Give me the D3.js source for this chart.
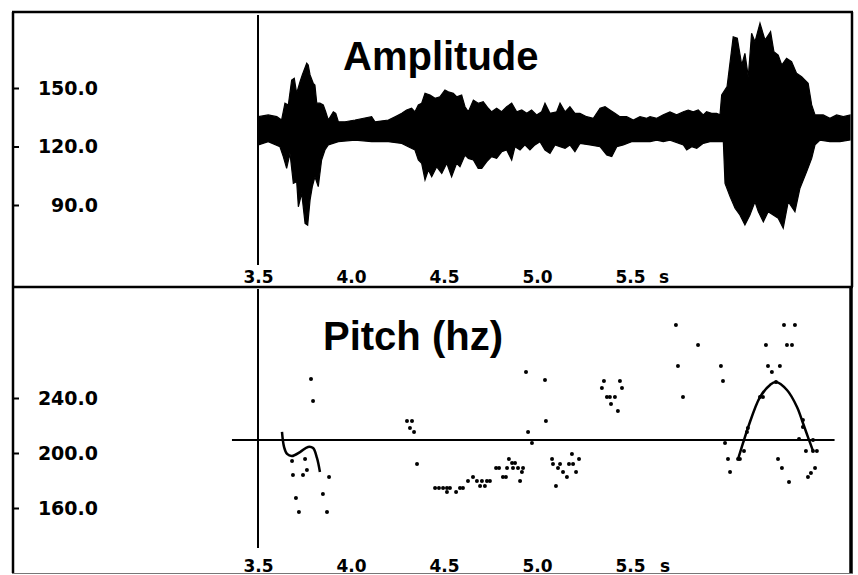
<!DOCTYPE html>
<html>
<head>
<meta charset="utf-8">
<script src="https://cdn.jsdelivr.net/npm/d3@7"></script>
<style>
body { margin: 0; background: #fff; }
text { font-family: "DejaVu Sans", sans-serif; fill: #000; }
</style>
</head>
<body>
<div id="chart"></div>
<script>
const timeTicks = [3.5, 4.0, 4.5, 5.0, 5.5];
const ampTicks = [90, 120, 150];
const pitchTicks = [160, 200, 240];

// amplitude envelope: upper edge
const upperTime = [3.502, 3.555, 3.601, 3.627, 3.645, 3.663, 3.681, 3.695, 3.708, 3.726, 3.738, 3.762,
    3.770, 3.780, 3.797, 3.806, 3.816, 3.833, 3.851, 3.864, 3.878, 3.905, 3.918, 3.932, 3.968,
    4.022, 4.111, 4.129, 4.201, 4.237, 4.273, 4.299, 4.326, 4.344, 4.362, 4.380, 4.398, 4.425,
    4.452, 4.478, 4.505, 4.523, 4.550, 4.568, 4.595, 4.613, 4.631, 4.658, 4.684, 4.711, 4.738,
    4.756, 4.783, 4.810, 4.837, 4.864, 4.891, 4.918, 4.945, 4.971, 4.998, 5.025, 5.043, 5.070,
    5.106, 5.124, 5.151, 5.177, 5.204, 5.231, 5.267, 5.303, 5.339, 5.366, 5.392, 5.419, 5.446,
    5.482, 5.518, 5.554, 5.590, 5.608, 5.644, 5.679, 5.715, 5.751, 5.787, 5.813, 5.840, 5.867,
    5.894, 5.912, 5.939, 5.966, 5.984, 5.993, 6.022, 6.055, 6.077, 6.101, 6.118, 6.136, 6.154,
    6.172, 6.199, 6.226, 6.256, 6.274, 6.297, 6.316, 6.342, 6.369, 6.396, 6.423, 6.458, 6.477,
    6.495, 6.539, 6.575, 6.611, 6.647, 6.683];
const upperValue = [135.3, 136.2, 135.3, 133.6, 142.2, 141.3, 154.1, 155.0, 147.3, 153.2, 156.7, 162.7,
    161.8, 156.7, 152.4, 151.5, 142.2, 142.2, 141.3, 137.8, 133.6, 137.8, 137.0, 132.7, 132.7,
    133.6, 135.3, 132.7, 133.6, 135.3, 137.0, 138.7, 139.6, 137.8, 141.3, 142.2, 147.3, 146.4,
    144.7, 145.5, 149.0, 148.1, 147.3, 145.5, 146.4, 140.4, 137.8, 143.8, 142.2, 143.0, 139.6,
    137.8, 139.6, 137.8, 140.4, 142.2, 137.8, 138.7, 137.0, 138.7, 136.2, 137.8, 142.2, 137.0,
    137.8, 142.2, 137.8, 140.4, 137.0, 137.0, 135.3, 134.5, 139.6, 140.4, 138.7, 137.0, 135.3,
    135.3, 133.6, 135.3, 134.5, 135.3, 134.5, 136.2, 137.8, 136.2, 137.8, 138.7, 137.8, 138.7,
    136.2, 137.8, 137.0, 137.0, 136.2, 146.4, 150.7, 176.3, 175.5, 161.8, 167.8, 155.8, 178.1,
    173.7, 183.2, 174.6, 178.9, 168.6, 166.9, 161.8, 165.2, 163.5, 157.5, 155.8, 152.4, 141.3,
    136.2, 136.2, 134.5, 136.2, 135.3, 136.2];

// lower edge
const lowerTime = [3.502, 3.555, 3.618, 3.636, 3.654, 3.672, 3.690, 3.708, 3.717, 3.735, 3.753, 3.767,
    3.780, 3.792, 3.806, 3.824, 3.842, 3.860, 3.878, 3.932, 4.022, 4.111, 4.201, 4.273, 4.308,
    4.344, 4.362, 4.380, 4.398, 4.416, 4.434, 4.461, 4.488, 4.515, 4.541, 4.568, 4.586, 4.613,
    4.631, 4.658, 4.684, 4.703, 4.730, 4.756, 4.783, 4.810, 4.837, 4.864, 4.882, 4.909, 4.935,
    4.962, 4.989, 5.016, 5.043, 5.070, 5.097, 5.124, 5.151, 5.177, 5.204, 5.231, 5.285, 5.339,
    5.375, 5.402, 5.429, 5.464, 5.509, 5.554, 5.608, 5.644, 5.679, 5.715, 5.787, 5.805, 5.832,
    5.859, 5.894, 5.930, 5.966, 6.002, 6.011, 6.038, 6.065, 6.091, 6.118, 6.145, 6.172, 6.190,
    6.217, 6.243, 6.270, 6.297, 6.324, 6.351, 6.387, 6.414, 6.450, 6.477, 6.495, 6.522, 6.575,
    6.629, 6.683];
const lowerValue = [120.8, 122.5, 119.9, 114.8, 108.8, 116.5, 101.1, 101.9, 89.1, 96.0, 80.6, 79.7,
    92.6, 99.4, 104.5, 99.4, 113.1, 118.2, 120.8, 122.5, 123.3, 122.5, 122.5, 121.6, 119.9,
    118.2, 113.1, 111.4, 102.8, 107.9, 104.5, 109.6, 106.2, 111.4, 104.5, 111.4, 109.6, 115.6,
    113.9, 113.1, 108.8, 108.8, 112.2, 114.8, 113.9, 117.3, 118.2, 113.1, 119.9, 118.2, 120.8,
    118.2, 120.8, 122.5, 118.2, 116.5, 120.8, 119.9, 119.1, 120.8, 117.3, 121.6, 120.8, 119.9,
    115.6, 114.8, 119.9, 120.8, 122.5, 122.5, 122.5, 123.3, 122.5, 123.3, 120.8, 118.2, 119.9,
    119.1, 121.6, 122.5, 122.5, 122.5, 101.1, 94.3, 88.3, 84.9, 79.8, 84.9, 91.7, 86.6,
    81.4, 86.6, 84.9, 83.2, 78.1, 91.7, 86.6, 98.6, 107.1, 113.9, 120.8, 123.3, 122.5,
    122.5, 123.3];

// pitch estimates (seconds, hz)
const pitchTime = [3.785, 3.796, 3.683, 3.688, 3.742, 3.753, 3.763, 3.704, 3.720, 3.849, 3.871, 3.882,
    4.301, 4.328, 4.317, 4.339, 4.355,
    4.452, 4.473, 4.495, 4.516, 4.532, 4.586, 4.602, 4.516, 4.565, 4.629, 4.656, 4.677, 4.704,
    4.731, 4.747, 4.694, 4.720, 4.780, 4.796, 4.817, 4.833, 4.849, 4.839, 4.866, 4.882, 4.871,
    4.898, 4.925, 4.919, 4.909,
    4.941, 4.952, 4.973, 5.043, 5.048,
    5.081, 5.086, 5.124, 5.172, 5.194, 5.188, 5.226, 5.113, 5.140, 5.161, 5.210, 5.102,
    5.360, 5.446, 5.349, 5.457, 5.376, 5.392, 5.419, 5.398, 5.435,
    5.747, 5.866, 5.758, 5.785, 5.989, 6.000, 6.011, 6.027, 6.038, 6.081, 6.091, 6.113, 6.134,
    6.129, 6.199, 6.215, 6.231, 6.242, 6.306, 6.263, 6.285, 6.328, 6.387, 6.344, 6.371, 6.296,
    6.317, 6.355, 6.430, 6.430, 6.409, 6.484, 6.446, 6.484, 6.505, 6.495, 6.473, 6.457];
const pitchValue = [253.8, 237.8, 194.2, 184.0, 184.0, 195.6, 187.6, 167.3, 157.1, 170.2, 157.1, 182.5,
    223.3, 223.3, 218.2, 215.3, 192.0,
    174.5, 174.5, 174.5, 174.5, 174.5, 174.5, 174.5, 171.6, 171.6, 179.6, 182.5, 179.6, 179.6,
    179.6, 179.6, 176.0, 176.0, 189.1, 189.1, 182.5, 182.5, 195.6, 189.1, 192.7, 192.7, 189.1,
    189.1, 189.1, 186.2, 179.6,
    258.9, 215.3, 207.3, 253.1, 223.3,
    195.6, 192.0, 192.0, 192.0, 192.0, 199.3, 195.6, 189.1, 186.2, 182.5, 186.2, 176.0,
    252.4, 252.4, 247.3, 247.3, 240.7, 240.7, 240.7, 235.6, 230.5,
    293.1, 278.5, 263.3, 240.7, 263.3, 252.4, 207.3, 195.6, 186.2, 195.6, 195.6, 201.5, 218.2,
    215.3, 240.7, 240.7, 278.5, 263.3, 263.3, 258.9, 251.6, 293.1, 293.1, 278.5, 278.5, 195.6,
    189.1, 178.9, 224.0, 218.9, 210.2, 209.5, 201.5, 201.5, 201.5, 189.1, 185.5, 182.5];

// fitted pitch contours
const fitLeftTime = [3.629, 3.640, 3.656, 3.683, 3.726, 3.769, 3.796, 3.817, 3.833];
const fitLeftValue = [215.3, 204.4, 199.3, 197.8, 200.7, 204.4, 203.6, 196.4, 186.2];
const fitRightTime = [6.081, 6.108, 6.134, 6.199, 6.253, 6.285, 6.344, 6.398, 6.430, 6.457, 6.484];
const fitRightValue = [195.6, 207.3, 218.2, 240.7, 249.5, 251.6, 245.8, 233.5, 221.8, 211.6, 201.5];

const meanPitch = 209.5;
const meanSpan = [3.36, 6.60];

const w = 858;
const h = 575;

const svg = d3.select("#chart")
    .append("svg")
    .attr("width", w)
    .attr("height", h);

const xScale = d3.scaleLinear().domain([3.5, 6.683]).range([258, 850]);
const yAmp = d3.scaleLinear().domain([90, 150]).range([205, 88]);
const yPitch = d3.scaleLinear().domain([160, 240]).range([508, 398]);

// frame
const frame = [
    [12, 12, 853, 12, 2.5],
    [13, 12, 13, 573, 2.5],
    [852, 12, 852, 287, 2.5],
    [851, 287, 851, 573, 3.5],
    [12, 287, 853, 287, 2.5]
];
svg.selectAll("line.frame")
    .data(frame)
    .enter()
    .append("line")
    .attr("class", "frame")
    .attr("x1", d => d[0]).attr("y1", d => d[1])
    .attr("x2", d => d[2]).attr("y2", d => d[3])
    .attr("stroke", "#000")
    .attr("stroke-width", d => d[4]);

svg.append("line")
    .attr("x1", 12).attr("x2", 853)
    .attr("y1", 573.5).attr("y2", 573.5)
    .attr("stroke", "#777")
    .attr("stroke-width", 1);

// time axis lines
svg.append("line")
    .attr("x1", xScale(3.5)).attr("x2", xScale(3.5))
    .attr("y1", 15).attr("y2", 265)
    .attr("stroke", "#000").attr("stroke-width", 2);
svg.append("line")
    .attr("x1", xScale(3.5)).attr("x2", xScale(3.5))
    .attr("y1", 289).attr("y2", 548)
    .attr("stroke", "#000").attr("stroke-width", 2);

// waveform: upper edge forward, lower edge back
const outline = upperTime.map((t, i) => [t, upperValue[i]])
    .concat(lowerTime.map((t, i) => [t, lowerValue[i]]).reverse());
svg.append("path")
    .datum(outline)
    .attr("d", d => d3.line()
        .x(p => xScale(p[0]))
        .y(p => yAmp(p[1]))(d) + "Z")
    .attr("fill", "#000")
    .attr("stroke", "#000")
    .attr("stroke-width", 1.2);

// mean pitch line
svg.append("line")
    .attr("x1", xScale(meanSpan[0])).attr("x2", xScale(meanSpan[1]))
    .attr("y1", yPitch(meanPitch)).attr("y2", yPitch(meanPitch))
    .attr("stroke", "#000").attr("stroke-width", 2);

// pitch dots
svg.selectAll("circle.pitch")
    .data(pitchTime.map((t, i) => [t, pitchValue[i]]))
    .enter()
    .append("circle")
    .attr("class", "pitch")
    .attr("cx", d => xScale(d[0]))
    .attr("cy", d => yPitch(d[1]))
    .attr("r", 2)
    .attr("fill", "#000");

const fitLine = d3.line()
    .x(d => xScale(d[0]))
    .y(d => yPitch(d[1]))
    .curve(d3.curveCatmullRom);

[[fitLeftTime, fitLeftValue], [fitRightTime, fitRightValue]].forEach(([ts, vs]) => {
    svg.append("path")
        .datum(ts.map((t, i) => [t, vs[i]]))
        .attr("d", fitLine)
        .attr("fill", "none")
        .attr("stroke", "#000")
        .attr("stroke-width", 2.5);
});

// titles
svg.append("text")
    .attr("x", 343).attr("y", 70)
    .style("font-family", "'Liberation Sans', Arial, sans-serif")
    .style("font-weight", "bold")
    .style("font-size", "40px")
    .text("Amplitude");
svg.append("text")
    .attr("x", 323).attr("y", 350)
    .style("font-family", "'Liberation Sans', Arial, sans-serif")
    .style("font-weight", "bold")
    .style("font-size", "40px")
    .text("Pitch (hz)");

// axes
const styleAxis = (g, size) => {
    g.select(".domain").remove();
    g.selectAll("text")
        .attr("fill", "#000")
        .style("font-size", size + "px")
        .style("font-weight", "bold");
    g.selectAll("line").attr("stroke", "#000").attr("stroke-width", 2);
};

const xAxis = d3.axisBottom(xScale)
    .tickValues(timeTicks)
    .tickSize(0)
    .tickPadding(0)
    .tickFormat(d3.format(".1f"));

svg.append("g")
    .attr("transform", "translate(0, 271)")
    .call(xAxis)
    .call(g => styleAxis(g, 17));
svg.append("g")
    .attr("transform", "translate(0, 560)")
    .call(xAxis)
    .call(g => styleAxis(g, 17));

[[283, 659], [572, 660]].forEach(([y, x]) => {
    svg.append("text")
        .attr("x", x).attr("y", y)
        .style("font-size", "17px")
        .style("font-weight", "bold")
        .text("s");
});

const leftAxis = (scale, ticks) => d3.axisRight(scale)
    .tickValues(ticks)
    .tickSize(6)
    .tickFormat(d3.format(".1f"));

[[yAmp, ampTicks], [yPitch, pitchTicks]].forEach(([scale, ticks]) => {
    svg.append("g")
        .attr("transform", "translate(13, 0)")
        .call(leftAxis(scale, ticks))
        .call(g => styleAxis(g, 19))
        .call(g => g.selectAll("text").attr("x", 85).attr("text-anchor", "end"));
});
</script>
</body>
</html>
